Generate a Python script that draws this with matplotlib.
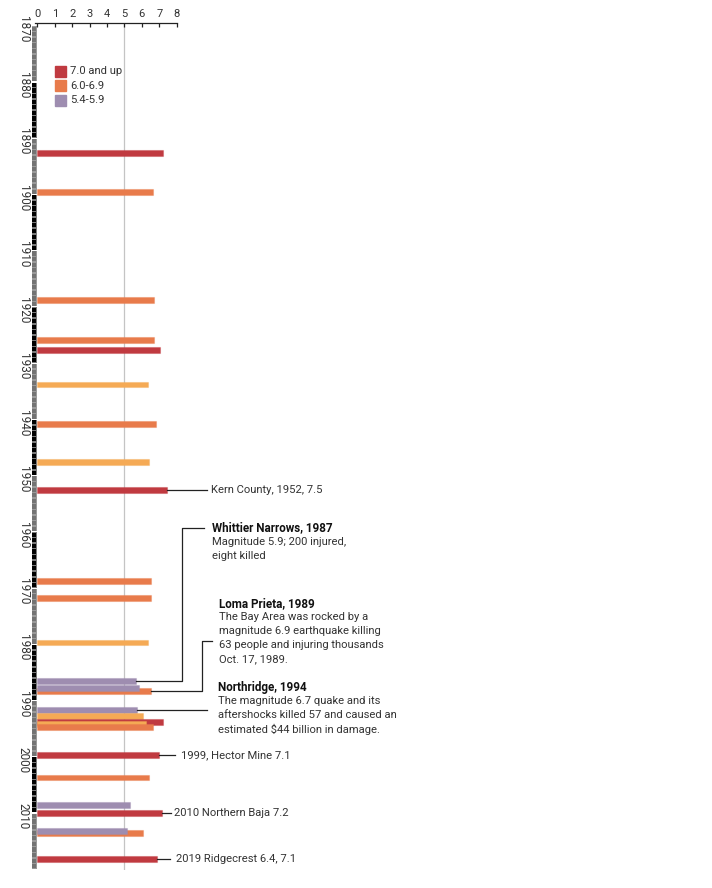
import matplotlib
matplotlib.use("Agg")
import matplotlib.pyplot as plt
import numpy as np

plt.rcParams['font.family'] = ['Roboto', 'DejaVu Sans']

# ---------------- data ----------------
quake_years = [1892.63, 1899.56, 1918.77, 1925.83, 1927.66, 1933.83, 1940.82, 1947.58,
               1952.56, 1968.74, 1971.77, 1979.71, 1986.58, 1988.25, 1987.77,
               1991.68, 1992.75, 1993.82, 1994.17, 1994.70,
               1999.69, 2003.72, 2008.58, 2009.95, 2013.61, 2013.15, 2018.23]
quake_mags = [7.23, 6.64, 6.72, 6.72, 7.04, 6.34, 6.83, 6.43,
              7.43, 6.54, 6.53, 6.34, 5.65, 6.51, 5.84,
              5.71, 6.05, 7.23, 6.24, 6.62,
              7.00, 6.43, 5.32, 7.14, 6.05, 5.13, 6.85]
quake_cats = ['big', 'mid', 'mid', 'mid', 'big', 'low', 'mid', 'low',
              'big', 'mid', 'mid', 'low', 'small', 'mid', 'small',
              'small', 'low', 'big', 'low', 'mid',
              'big', 'mid', 'small', 'big', 'mid', 'small', 'big']

legend_labels = ['7.0 and up', '6.0-6.9', '5.4-5.9']
legend_cats = ['big', 'mid', 'small']

x_ticks = list(range(0, 9))
decades = list(range(1870, 2020, 10))
strip_years = list(range(1870, 2020))

# annotations: (bar index, text)
simple_labels = [(8, 'Kern County, 1952, 7.5'),
                 (20, '1999, Hector Mine 7.1'),
                 (23, '2010 Northern Baja 7.2'),
                 (26, '2019 Ridgecrest 6.4, 7.1')]
whittier_title = 'Whittier Narrows, 1987'
whittier_body = ['Magnitude 5.9; 200 injured,', 'eight killed']
loma_title = 'Loma Prieta, 1989'
loma_body = ['The Bay Area was rocked by a', 'magnitude 6.9 earthquake killing',
             '63 people and injuring thousands', 'Oct. 17, 1989.']
north_title = 'Northridge, 1994'
north_body = ['The magnitude 6.7 quake and its', 'aftershocks killed 57 and caused an',
              'estimated $44 billion in damage.']

# ---------------- style ----------------
COL = {'big': '#c03a40', 'mid': '#e87b4b', 'low': '#f5aa55', 'small': '#9e8db0'}
TXT = '#333333'
FS = 8.1
FSB = 8.4

W, H = 712, 888
fig = plt.figure(figsize=(W / 100, H / 100), dpi=100)

X0, XS = 37.3, 17.42      # pixel of 0, pixels per unit
Y0, YS = 82.0, 5.623      # pixel of 1880, pixels per year
xmin = -0.33
top_px, bot_px = 23.3, 870.0
left_px = X0 + xmin * XS
ax = fig.add_axes([left_px / W, 1 - bot_px / H, (8 - xmin) * XS / W, (bot_px - top_px) / H])
ax.set_xlim(xmin, 8)
ax.set_ylim(1880 + (bot_px - Y0) / YS, 1880 + (top_px - Y0) / YS)
ax.patch.set_alpha(0)


def dx(px):
    return (px - X0) / XS


def dy(py):
    return 1880 + (py - Y0) / YS


for s in ['bottom', 'left', 'right']:
    ax.spines[s].set_visible(False)
ax.spines['top'].set_bounds(dx(35), 8)
ax.spines['top'].set_color('#222222')
ax.spines['top'].set_linewidth(0.9)
ax.xaxis.tick_top()
ax.set_xticks(x_ticks)
ax.tick_params(axis='x', direction='in', length=3, width=0.9, color='#222222',
               pad=3.2, labelsize=8.0, labelcolor=TXT)
ax.set_yticks([])

ax.axvline(5, color='#c4c4c4', lw=0.9, zorder=0)

# decade strip
dec_bg = ['#9a9a9a' if i % 2 == 0 else '#7a7a7a' for i in range(len(decades))]
ax.barh([d + 5 for d in decades], 0.29, left=-0.32, height=9.8, color=dec_bg,
        linewidth=0, zorder=1, clip_on=False)
sq_col = ['#737373' if ((y - 1870) // 10) % 2 == 0 else '#000000' for y in strip_years]
ax.barh([y + 0.5 for y in strip_years], 0.22, left=-0.285, height=0.74, color=sq_col,
        linewidth=0, zorder=2, clip_on=False)
for d in decades:
    ax.text(dx(23.3), d + 0.6, str(d), rotation=-90, ha='center', va='center',
            fontsize=8.5, color=TXT, clip_on=False)

# bars
cols = [COL[c] for c in quake_cats]
edges = [matplotlib.colors.to_rgba(c, 0.35) for c in cols]
ax.barh(quake_years, quake_mags, height=1.0, color=cols, edgecolor=edges,
        linewidth=0.8, zorder=3)

LC = '#222222'
LW = 0.9

# simple labels
label_line_end = {8: 207, 20: 175, 23: 171, 26: 170}
label_text_x = {8: 211.5, 20: 181.5, 23: 174.3, 26: 176}
for i, txt in simple_labels:
    ax.plot([quake_mags[i], dx(label_line_end[i])], [quake_years[i]] * 2,
            color=LC, lw=LW, clip_on=False, zorder=4)
    ax.text(dx(label_text_x[i]), quake_years[i], txt, ha='left', va='center',
            fontsize=FS, color=TXT, clip_on=False)


def block(x, y, title, body, step=14.2):
    ax.text(dx(x), dy(y), title, ha='left', va='center', fontsize=FSB,
            fontweight='bold', color='#111111', clip_on=False)
    for k, line in enumerate(body):
        ax.text(dx(x), dy(y + step * (k + 1)), line, ha='left', va='center',
                fontsize=FS, color=TXT, clip_on=False)


# Whittier Narrows leader (bar 12)
i = 12
ax.plot([quake_mags[i], dx(182), dx(182), dx(204)],
        [quake_years[i], quake_years[i], dy(527.5), dy(527.5)],
        color=LC, lw=LW, clip_on=False, zorder=4)
block(211.7, 527.5, whittier_title, whittier_body)

# Loma Prieta leader (bar 13)
i = 13
ax.plot([quake_mags[i], dx(201.7), dx(201.7), dx(212.5)],
        [quake_years[i], quake_years[i], dy(641), dy(641)],
        color=LC, lw=LW, clip_on=False, zorder=4)
block(219, 603.3, loma_title, loma_body, step=13.9)

# Northridge leader (bar 15)
i = 15
ax.plot([quake_mags[i], dx(207)], [quake_years[i]] * 2,
        color=LC, lw=LW, clip_on=False, zorder=4)
block(218.3, 687, north_title, north_body)

# legend
for k, (lab, c) in enumerate(zip(legend_labels, legend_cats)):
    cy = 71 + k * 14.6
    ax.add_patch(plt.Rectangle((dx(55), dy(cy - 5.5)), 10.7 / XS, 11 / YS,
                               color=COL[c], clip_on=False, zorder=5))
    ax.text(dx(70.5), dy(cy), lab, ha='left', va='center', fontsize=FS,
            color=TXT, clip_on=False)

fig.savefig('out.png', dpi=100)
